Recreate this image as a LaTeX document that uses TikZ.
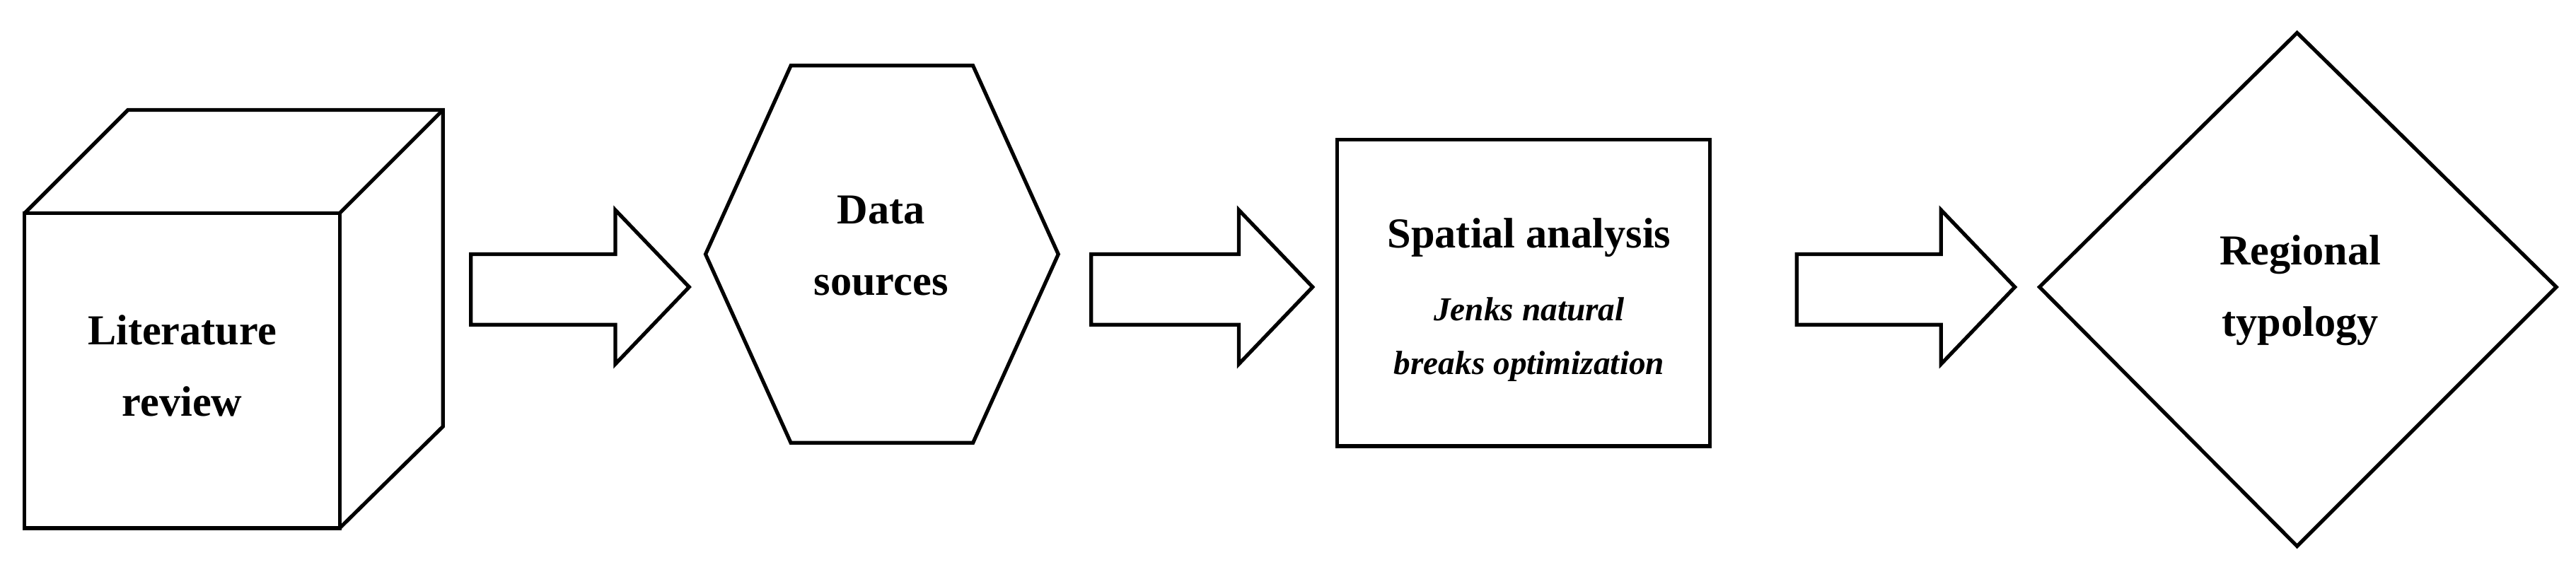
\documentclass[tikz,border=0pt]{standalone}
\usepackage{fontspec}
\setmainfont{Liberation Serif}
\begin{document}
\begin{tikzpicture}[x=0.05cm,y=-0.05cm,line width=3.2pt,line join=miter,
  lbl/.style={align=center,font=\fontsize{37}{62}\selectfont\bfseries},
  sub/.style={font=\fontsize{29}{47}\selectfont\bfseries\itshape}]
\useasboundingbox (0,0) rectangle (1570,348.7);
% cube
\draw (15,130) rectangle (207,322);
\draw (15,130) -- (78,67) -- (270,67) -- (270,260) -- (207,322);
\draw (207,130) -- (270,67);
\node[lbl] (lit) at (111,223) {Literature\\review};
\newcommand{\blockarrow}[3]{\draw (#1,155) -- (#2,155) -- (#2,128) -- (#3,175) -- (#2,222) -- (#2,198) -- (#1,198) -- cycle;}
\blockarrow{287}{375}{420}
% hexagon
\draw (430,155) -- (482,40) -- (593,40) -- (645,155) -- (593,270) -- (482,270) -- cycle;
\node[lbl] (data) at (537,150) {Data\\sources};
\blockarrow{665}{755}{800}
\draw (815,85) rectangle (1042,272);
\node[lbl] (sp) at (932,145) {Spatial analysis};
\node[sub,align=center] (jenks) at (932,207) {Jenks natural\\breaks optimization};
\blockarrow{1095}{1183}{1228}
\draw (1243,175) -- (1400,20) -- (1558,175) -- (1400,333) -- cycle;
\node[lbl] (reg) at (1402,177) {Regional\\typology};
\end{tikzpicture}
\end{document}
